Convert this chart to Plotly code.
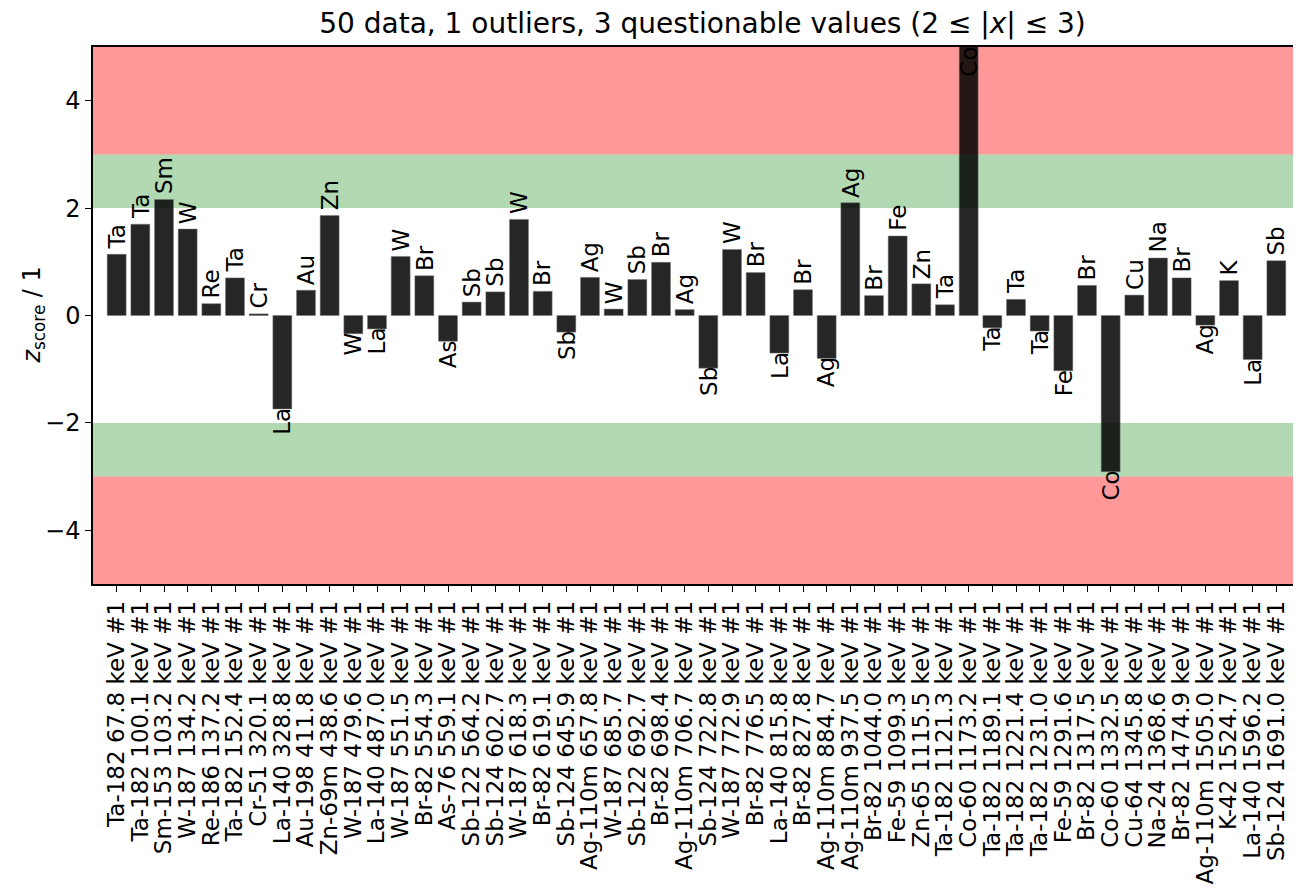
import plotly.graph_objects as go

nuclides = ["Ta-182", "Ta-182", "Sm-153", "W-187", "Re-186", "Ta-182", "Cr-51", "La-140", "Au-198", "Zn-69m",
            "W-187", "La-140", "W-187", "Br-82", "As-76", "Sb-122", "Sb-124", "W-187", "Br-82", "Sb-124",
            "Ag-110m", "W-187", "Sb-122", "Br-82", "Ag-110m", "Sb-124", "W-187", "Br-82", "La-140", "Br-82",
            "Ag-110m", "Ag-110m", "Br-82", "Fe-59", "Zn-65", "Ta-182", "Co-60", "Ta-182", "Ta-182", "Ta-182",
            "Fe-59", "Br-82", "Co-60", "Cu-64", "Na-24", "Br-82", "Ag-110m", "K-42", "La-140", "Sb-124"]
energies = ["67.8", "100.1", "103.2", "134.2", "137.2", "152.4", "320.1", "328.8", "411.8", "438.6",
            "479.6", "487.0", "551.5", "554.3", "559.1", "564.2", "602.7", "618.3", "619.1", "645.9",
            "657.8", "685.7", "692.7", "698.4", "706.7", "722.8", "772.9", "776.5", "815.8", "827.8",
            "884.7", "937.5", "1044.0", "1099.3", "1115.5", "1121.3", "1173.2", "1189.1", "1221.4", "1231.0",
            "1291.6", "1317.5", "1332.5", "1345.8", "1368.6", "1474.9", "1505.0", "1524.7", "1596.2", "1691.0"]
zscores = [1.14, 1.70, 2.16, 1.61, 0.22, 0.70, 0.03, -1.74, 0.47, 1.86,
           -0.34, -0.25, 1.10, 0.74, -0.48, 0.25, 0.44, 1.79, 0.45, -0.31,
           0.71, 0.12, 0.67, 0.99, 0.11, -0.98, 1.23, 0.80, -0.70, 0.48,
           -0.80, 2.10, 0.37, 1.48, 0.59, 0.20, 5.6, -0.23, 0.30, -0.29,
           -1.03, 0.56, -2.91, 0.38, 1.07, 0.70, -0.18, 0.65, -0.82, 1.02]
title_text = "50 data, 1 outliers, 3 questionable values (2 ≤ |<i>x</i>| ≤ 3)"
y_label = "<i>z</i><sub>score</sub> / 1"
y_min, y_max = -5, 5
bands = [(3, 5, "rgba(255,0,0,0.4)"), (2, 3, "rgba(0,128,0,0.3)"),
         (-3, -2, "rgba(0,128,0,0.3)"), (-5, -3, "rgba(255,0,0,0.4)")]

FONT = "DejaVu Sans"
FS = 23
xs = list(range(len(zscores)))
ticktext = [f"{n} {e} keV #1" for n, e in zip(nuclides, energies)]
elements = [n.split("-")[0] for n in nuclides]

W, H = 1293, 884  # page body has an 8px offset
ML, MR, MT, MB = 85, 1, 39, 308
plot_w = W - ML - MR

fig = go.Figure()
fig.add_trace(go.Bar(x=xs, y=zscores, width=0.8,
                     marker=dict(color="rgba(0,0,0,0.85)", line=dict(width=0.8, color="rgba(120,120,120,0.6)")),
                     showlegend=False, hoverinfo="skip"))

for y0, y1, c in bands:
    fig.add_shape(type="rect", xref="paper", yref="y", x0=0, x1=1, y0=y0, y1=y1,
                  fillcolor=c, line=dict(width=0), layer="below")

for x, v, el in zip(xs, zscores, elements):
    if v > y_max:
        fig.add_annotation(x=x, y=y_max, text=el, textangle=-90, showarrow=False,
                           xanchor="center", yanchor="top", yshift=2,
                           font=dict(family=FONT, size=FS, color="black"))
    elif v >= 0:
        fig.add_annotation(x=x, y=v, text=el, textangle=-90, showarrow=False,
                           xanchor="center", yanchor="bottom", yshift=3,
                           font=dict(family=FONT, size=FS, color="black"))
    else:
        fig.add_annotation(x=x, y=v, text=el, textangle=-90, showarrow=False,
                           xanchor="center", yanchor="top", yshift=3,
                           font=dict(family=FONT, size=FS, color="black"))

# y-axis label
fig.add_annotation(xref="paper", yref="paper", x=0, y=0.5, xshift=-60, text=y_label, textangle=-90,
                   showarrow=False, xanchor="center", yanchor="middle",
                   font=dict(family=FONT, size=24, color="black"))

fig.update_layout(
    width=W, height=H,
    margin=dict(l=ML, r=MR, t=MT, b=MB, autoexpand=False),
    paper_bgcolor="white", plot_bgcolor="white",
    font=dict(family=FONT, size=FS, color="black"),
    title=dict(text=title_text, x=0.5 + 6 / plot_w, xref="paper", y=1 - 15 / H, yref="container",
               xanchor="center", yanchor="middle", font=dict(family=FONT, size=28, color="black")),
)
fig.update_xaxes(range=[-1, 50], tickmode="array", tickvals=xs, ticktext=ticktext, tickangle=-90,
                 ticks="outside", ticklen=6, tickwidth=1.2, tickcolor="black", automargin=False,
                 showline=True, linecolor="black", linewidth=1.5, mirror=True,
                 showgrid=False, zeroline=False, tickfont=dict(family=FONT, size=FS))
fig.update_yaxes(range=[y_min, y_max], tickvals=[-4, -2, 0, 2, 4],
                 ticks="outside", ticklen=6, tickwidth=1.2, tickcolor="black", automargin=False,
                 showline=True, linecolor="black", linewidth=1.5, mirror=True,
                 showgrid=False, zeroline=False, tickfont=dict(family=FONT, size=24))

fig.write_html("out.html")
